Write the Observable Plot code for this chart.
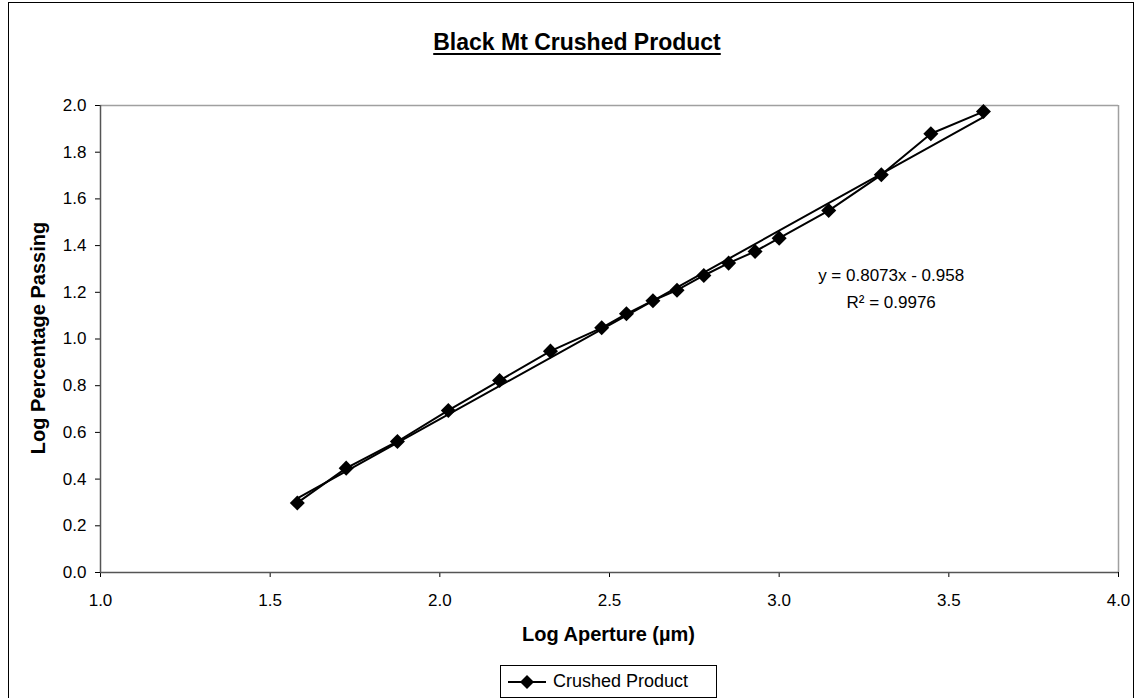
<!DOCTYPE html>
<html>
<head>
<meta charset="utf-8">
<script src="https://cdn.jsdelivr.net/npm/d3@7"></script>
<script src="https://cdn.jsdelivr.net/npm/@observablehq/plot@0.6"></script>
<style>
  html, body { margin: 0; padding: 0; background: #fff; }
  #page { position: relative; width: 1137px; height: 698px; overflow: hidden;
          font-family: "Liberation Sans", Arial, sans-serif; color: #000; }
  #frame { position: absolute; left: 8px; top: 2px; width: 1126px; height: 720px;
           border: 1px solid #000; box-sizing: border-box; }
  #chart { position: absolute; left: 0; top: 0; }
  .title { position: absolute; left: 0; width: 1154px; top: 31px; text-align: center;
           font-size: 23px; line-height: 23px; font-weight: bold;
           text-decoration: underline; text-decoration-thickness: 2px; text-underline-offset: 3px; }
  .xlabel { position: absolute; left: 0; width: 1217px; top: 624px; text-align: center;
            font-size: 20px; line-height: 20px; font-weight: bold; }
  .ylabel { position: absolute; left: 38px; top: 338px; white-space: nowrap;
            font-size: 20px; line-height: 20px; font-weight: bold;
            transform: translate(-50%, -50%) rotate(-90deg); }
  .legend { position: absolute; left: 500px; top: 665px; width: 217px; height: 33px;
            border: 1px solid #000; box-sizing: border-box; display: flex; align-items: center;
            font-size: 18px; background: #fff; }
  .legend svg { margin-left: 6px; margin-right: 6px; }
</style>
</head>
<body>
<div id="page">
  <div id="frame"></div>
  <div id="chart"></div>
  <div class="title">Black Mt Crushed Product</div>
  <div class="xlabel">Log Aperture (µm)</div>
  <div class="ylabel">Log Percentage Passing</div>
  <div class="legend" id="legend"></div>
</div>
<script>
// Sieve apertures (log10 µm) and cumulative percentage passing (log10 %)
const logAperture = [1.580, 1.724, 1.875, 2.025, 2.176, 2.326, 2.477, 2.550, 2.628,
                     2.699, 2.778, 2.851, 2.929, 3.000, 3.146, 3.301, 3.447, 3.602];
const logPassing  = [0.298, 0.447, 0.561, 0.694, 0.822, 0.948, 1.048, 1.108, 1.164,
                     1.209, 1.272, 1.325, 1.375, 1.432, 1.550, 1.703, 1.879, 1.974];

// Linear trendline coefficients
const slope = 0.8073;
const intercept = -0.958;
const rSquared = 0.9976;

const seriesName = "Crushed Product";
const xTicks = [1.0, 1.5, 2.0, 2.5, 3.0, 3.5, 4.0];
const yTicks = [0.0, 0.2, 0.4, 0.6, 0.8, 1.0, 1.2, 1.4, 1.6, 1.8, 2.0];

const points = logAperture.map((x, i) => ({x, y: logPassing[i]}));
const xExtent = d3.extent(logAperture);
const trend = xExtent.map(x => ({x, y: slope * x + intercept}));

const eqText = `y = ${slope}x - ${Math.abs(intercept)}`;
const r2Text = `R² = ${rSquared}`;

// Square (45°-rotated) diamond marker
const diamond = {
  draw(context, size) {
    const h = Math.sqrt(size / 2);
    context.moveTo(0, -h);
    context.lineTo(h, 0);
    context.lineTo(0, h);
    context.lineTo(-h, 0);
    context.closePath();
  }
};

const fmt = d3.format(".1f");

const chart = Plot.plot({
  width: 1137,
  height: 698,
  marginLeft: 100,
  marginRight: 19,
  marginTop: 105,
  marginBottom: 126,
  style: {fontFamily: "'Liberation Sans', Arial, sans-serif", fontSize: "17px", color: "#000", background: "transparent", overflow: "visible"},
  x: {domain: [1, 4], ticks: xTicks, tickFormat: fmt, tickSize: 5, tickPadding: 16, label: null},
  y: {domain: [0, 2], ticks: yTicks, tickFormat: fmt, tickSize: 5, tickPadding: 9, label: null},
  marks: [
    Plot.ruleY([2], {stroke: "#a0a0a0", strokeWidth: 1.5}),
    Plot.ruleX([4], {stroke: "#a0a0a0", strokeWidth: 1.5}),
    Plot.ruleY([0], {stroke: "#555", strokeWidth: 1.5}),
    Plot.ruleX([1], {stroke: "#555", strokeWidth: 1.5}),
    Plot.line(trend, {x: "x", y: "y", stroke: "#000", strokeWidth: 2}),
    Plot.line(points, {x: "x", y: "y", stroke: "#000", strokeWidth: 2}),
    Plot.dot(points, {x: "x", y: "y", symbol: diamond, r: 6, fill: "#000", stroke: "none"}),
    Plot.text([eqText], {x: 3.33, y: 1.27, text: d => d, fontSize: 17, fill: "#000"}),
    Plot.text([r2Text], {x: 3.33, y: 1.155, text: d => d, fontSize: 17, fill: "#000"})
  ]
});
document.getElementById("chart").appendChild(chart);

// Legend entry: line with diamond marker and series name
const lg = d3.select("#legend");
const ls = lg.append("svg").attr("width", 40).attr("height", 16);
ls.append("line").attr("x1", 1).attr("x2", 39).attr("y1", 8).attr("y2", 8)
  .attr("stroke", "#000").attr("stroke-width", 2);
ls.append("path").attr("d", "M20,1L27,8L20,15L13,8Z").attr("fill", "#000");
lg.append("span").text(seriesName);
</script>
</body>
</html>
